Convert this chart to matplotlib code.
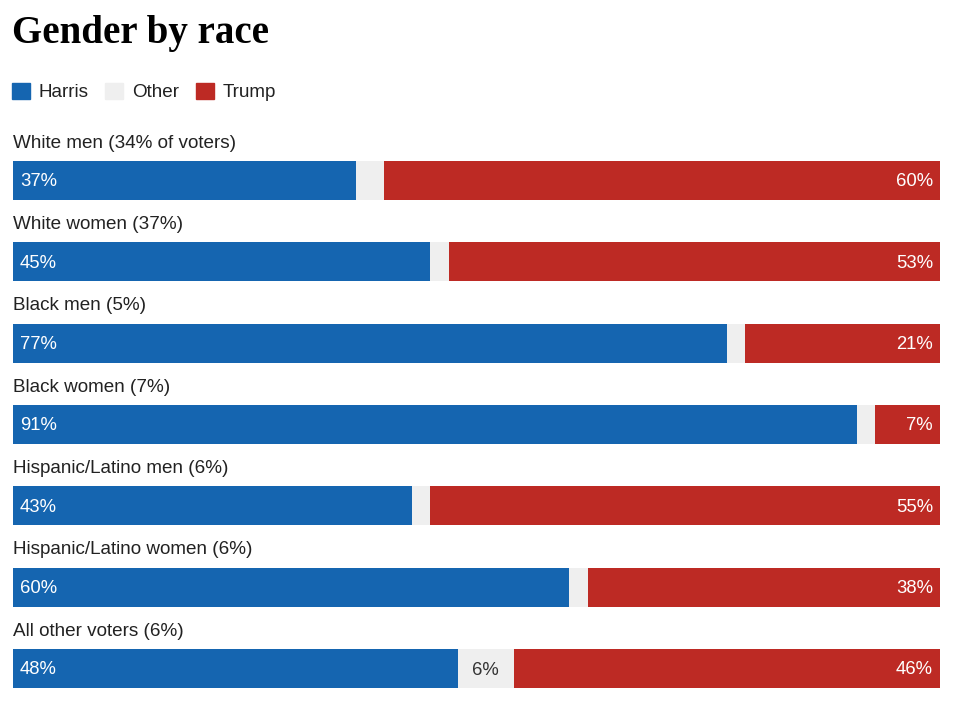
import matplotlib.pyplot as plt
from matplotlib.patches import Patch

groups = ["White men (34% of voters)", "White women (37%)", "Black men (5%)",
          "Black women (7%)", "Hispanic/Latino men (6%)",
          "Hispanic/Latino women (6%)", "All other voters (6%)"]
harris = [37, 45, 77, 91, 43, 60, 48]
other = [3, 2, 2, 2, 2, 2, 6]
trump = [60, 53, 21, 7, 55, 38, 46]

BLUE = "#1565b0"
GRAY = "#efefef"
RED = "#bd2a24"
TXT = "#222222"

W, H = 956, 701
fig = plt.figure(figsize=(W / 100, H / 100), dpi=100)
plt.rcParams['font.family'] = ['Liberation Sans', 'DejaVu Sans']

# bar area in pixels: x 13..940, y 161..688
ax = fig.add_axes([13 / W, 1 - 688 / H, 927 / W, 527 / H])
ax.set_xlim(0, 100)
ax.set_ylim(6.24, -0.24)
ax.axis("off")

rows = range(len(groups))
bh = 0.48
ax.barh(rows, harris, height=bh, color=BLUE, linewidth=0)
ax.barh(rows, other, left=harris, height=bh, color=GRAY, linewidth=0)
ax.barh(rows, trump, left=[h + o for h, o in zip(harris, other)], height=bh,
        color=RED, linewidth=0)

for i, g in enumerate(groups):
    ax.text(0, i - 0.46, g, va="center", ha="left", fontsize=13.6, color=TXT,
            clip_on=False)
    ax.annotate(f"{harris[i]}%", (0, i), xytext=(5, -1), textcoords="offset points",
                va="center", ha="left", fontsize=13.3, color="white")
    ax.annotate(f"{trump[i]}%", (100, i), xytext=(-5, -1), textcoords="offset points",
                va="center", ha="right", fontsize=13.3, color="white")
    if other[i] >= 5:
        ax.text(harris[i] + other[i] / 2, i + 0.02, f"{other[i]}%", va="center",
                ha="center", fontsize=13.3, color="#333333")

fig.text(12 / W, 1 - 33 / H, "Gender by race", fontsize=28, fontweight="bold",
         family=["Liberation Serif", "DejaVu Serif"], va="center", ha="left",
         color="black")

handles = [Patch(color=BLUE, label="Harris"), Patch(color=GRAY, label="Other"),
           Patch(color=RED, label="Trump")]
fig.legend(handles=handles, loc="center left", bbox_to_anchor=(-5 / W, 1 - 92 / H),
           ncol=3, frameon=False, fontsize=13.6, handlelength=0.95,
           handleheight=0.95, handletextpad=0.45, columnspacing=0.9,
           labelcolor=TXT)

fig.savefig("out.png", dpi=100, facecolor="white")
